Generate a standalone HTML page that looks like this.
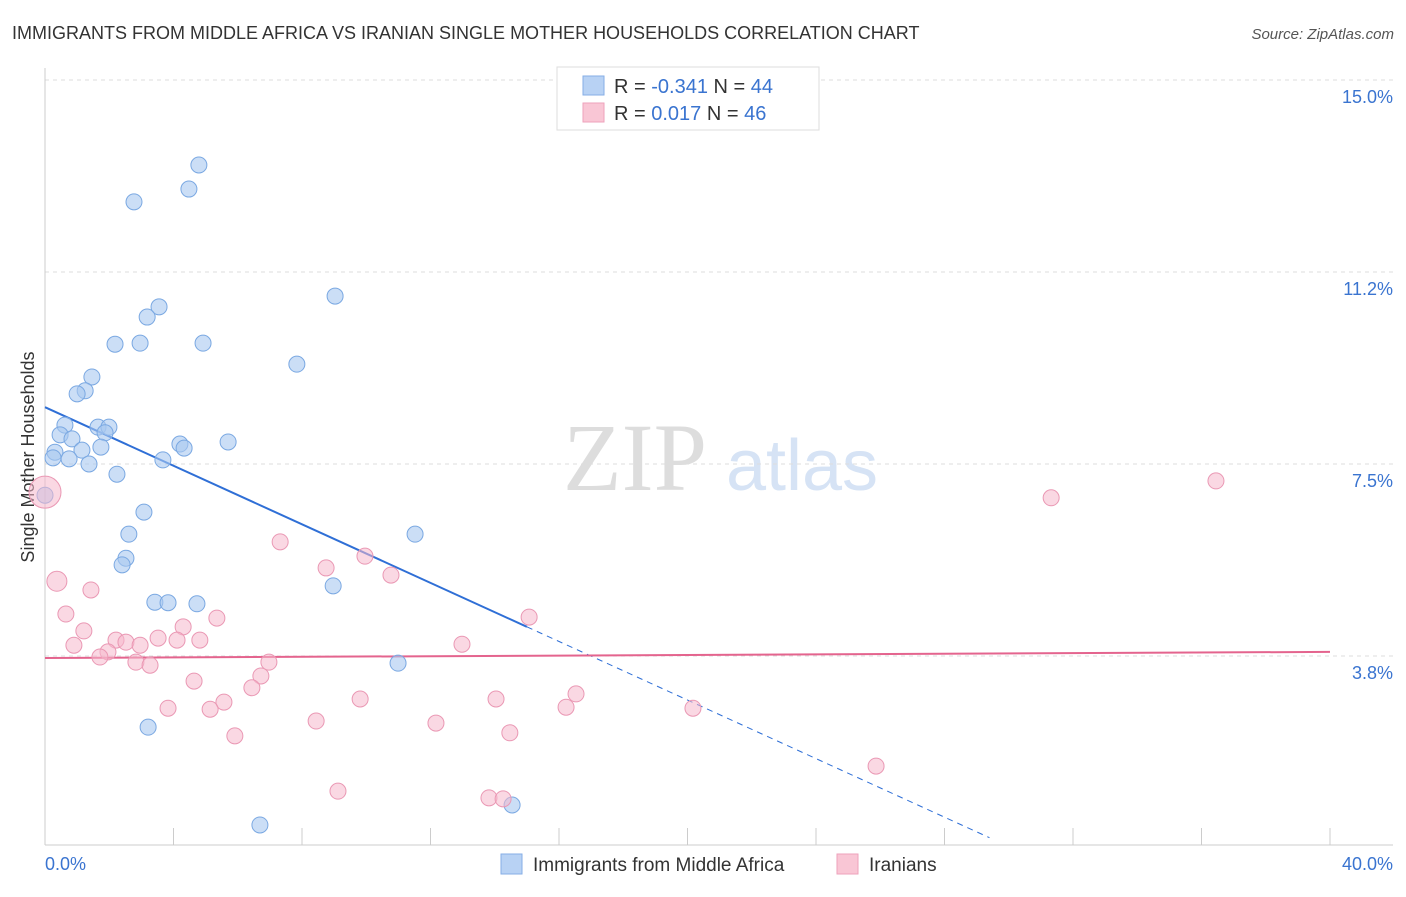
<!DOCTYPE html>
<html><head><meta charset="utf-8"><style>
body{margin:0;background:#fff;font-family:"Liberation Sans",sans-serif;}
svg text{font-family:"Liberation Sans",sans-serif;}
</style></head><body>
<svg id="chart" width="1406" height="892" xmlns="http://www.w3.org/2000/svg">
<text x="12" y="39" font-size="18" fill="#333">IMMIGRANTS FROM MIDDLE AFRICA VS IRANIAN SINGLE MOTHER HOUSEHOLDS CORRELATION CHART</text>
<text x="1394" y="39" font-size="15" fill="#555" text-anchor="end" font-style="italic">Source: ZipAtlas.com</text>
<text x="34" y="457" font-size="18" fill="#333" text-anchor="middle" transform="rotate(-90 34 457)">Single Mother Households</text>
<g>
<text x="635" y="490" font-size="96" fill="#ddd" text-anchor="middle" font-family="Liberation Serif" style="font-family:'Liberation Serif',serif">ZIP</text>
<text x="802" y="490" font-size="72" fill="#d6e3f5" text-anchor="middle">atlas</text>
</g>
<g id="grid"></g><g id="axes"></g><g id="lines"></g><g id="pts"></g>
<g>
<rect x="557" y="67" width="262" height="63" fill="#fff" stroke="#ddd"/>
<rect x="583" y="76" width="21" height="19" fill="#b8d2f4" stroke="#86aee6"/>
<rect x="583" y="103" width="21" height="19" fill="#f9c6d5" stroke="#eea2bb"/>
<text x="614" y="93" font-size="20" fill="#333">R = <tspan fill="#3a74d0">-0.341</tspan>   N = <tspan fill="#3a74d0">44</tspan></text>
<text x="614" y="120" font-size="20" fill="#333">R =   <tspan fill="#3a74d0">0.017</tspan>   N = <tspan fill="#3a74d0">46</tspan></text>
</g>
<g>
<rect x="501" y="854" width="21" height="20" fill="#b8d2f4" stroke="#86aee6"/>
<text x="533" y="871" font-size="19" fill="#333">Immigrants from Middle Africa</text>
<rect x="837" y="854" width="21" height="20" fill="#f9c6d5" stroke="#eea2bb"/>
<text x="869" y="871" font-size="19" fill="#333">Iranians</text>
</g>
<text x="45" y="870" font-size="18" fill="#3a74d0">0.0%</text>
<text x="1393" y="870" font-size="18" fill="#3a74d0" text-anchor="end">40.0%</text>
</svg>
<script>
const yTicks=[15,11.25,7.5,3.75];
const yTickLabels=["15.0%","11.2%","7.5%","3.8%"];
const blueX=[4.79,4.48,2.77,9.03,3.55,3.18,2.18,2.96,4.92,7.84,1.46,1.25,1.00,0.62,1.65,1.99,1.87,0.47,0.84,4.20,4.33,1.74,5.70,1.15,0.31,0.25,0.75,3.67,1.37,2.24,0,3.08,2.61,11.52,2.52,2.40,8.97,3.42,3.83,4.73,10.99,3.21,14.54,6.69];
const blueY=[13.34,12.87,12.62,10.78,10.57,10.37,9.84,9.86,9.86,9.45,9.20,8.93,8.87,8.26,8.22,8.22,8.11,8.07,7.99,7.89,7.81,7.83,7.93,7.77,7.73,7.62,7.60,7.58,7.50,7.30,6.89,6.56,6.13,6.13,5.66,5.53,5.12,4.80,4.79,4.77,3.61,2.36,0.84,0.45];
const pinkX=[0,0.37,1.43,0.65,7.32,8.75,9.96,10.77,15.07,31.32,36.45,5.35,4.30,1.21,3.52,2.21,2.52,2.96,4.11,4.82,0.90,12.98,1.96,1.71,2.83,3.27,6.97,6.72,4.64,6.44,16.53,9.81,14.04,5.57,3.83,5.14,16.22,20.17,8.44,12.17,14.47,5.91,25.87,9.12,13.82,14.26];
const pinkY=[6.95,5.21,5.04,4.57,5.98,5.47,5.70,5.33,4.51,6.84,7.17,4.49,4.32,4.24,4.10,4.06,4.02,3.96,4.06,4.06,3.96,3.98,3.83,3.73,3.63,3.57,3.63,3.36,3.26,3.13,3.01,2.91,2.91,2.85,2.73,2.71,2.75,2.73,2.48,2.44,2.25,2.19,1.60,1.11,0.98,0.96];
const pinkR=[16,10];
const blueTrend=[8.61,-0.286];
const pinkTrend=[3.71,0.003];
const NS="http://www.w3.org/2000/svg";
const sx=v=>45+v*32.125, sy=v=>848-v*51.2;
function mk(tag,attrs,parent){const e=document.createElementNS(NS,tag);for(const k in attrs)e.setAttribute(k,attrs[k]);document.getElementById(parent).appendChild(e);return e;}
yTicks.forEach((t,i)=>{
 const l=mk('line',{x1:45,x2:1393,y1:sy(t),y2:sy(t),stroke:'#ddd','stroke-dasharray':'4,4'},'grid');
 
 
 const tx=mk('text',{x:1393,y:sy(t)+23,'font-size':18,fill:'#3a74d0','text-anchor':'end'},'grid');
 tx.textContent=yTickLabels[i];
 
 
});
const ax=mk('line',{x1:45,x2:1393,y1:845,y2:845,stroke:'#ccc'},'axes');


const ay=mk('line',{x1:45,x2:45,y1:68,y2:845,stroke:'#ccc'},'axes');


for(let i=0;i<=10;i++){const t=mk('line',{x1:sx(i*4),x2:sx(i*4),y1:828,y2:845,stroke:'#ccc'},'axes');
 
 }
const bl=mk('line',{x1:sx(0),y1:sy(blueTrend[0]),x2:sx(15),y2:sy(blueTrend[0]+blueTrend[1]*15),stroke:'#2f6fd6','stroke-width':2},'lines');


const bd=mk('line',{x1:sx(15),y1:sy(blueTrend[0]+blueTrend[1]*15),x2:sx(29.4),y2:sy(blueTrend[0]+blueTrend[1]*29.4),stroke:'#2f6fd6','stroke-width':1,'stroke-dasharray':'6,5'},'lines');


const pl=mk('line',{x1:sx(0),y1:sy(pinkTrend[0]),x2:sx(40),y2:sy(pinkTrend[0]+pinkTrend[1]*40),stroke:'#e4648e','stroke-width':2},'lines');


blueX.forEach((x,i)=>{const c=mk('circle',{cx:sx(x),cy:sy(blueY[i]),r:8,fill:'rgba(168,200,240,0.6)',stroke:'#7aa8e2','stroke-width':1},'pts');
 
 });
pinkX.forEach((x,i)=>{const c=mk('circle',{cx:sx(x),cy:sy(pinkY[i]),r:pinkR[i]||8,fill:'rgba(245,184,204,0.55)',stroke:'#ea98b4','stroke-width':1},'pts');
 
 });
</script>
</body></html>
